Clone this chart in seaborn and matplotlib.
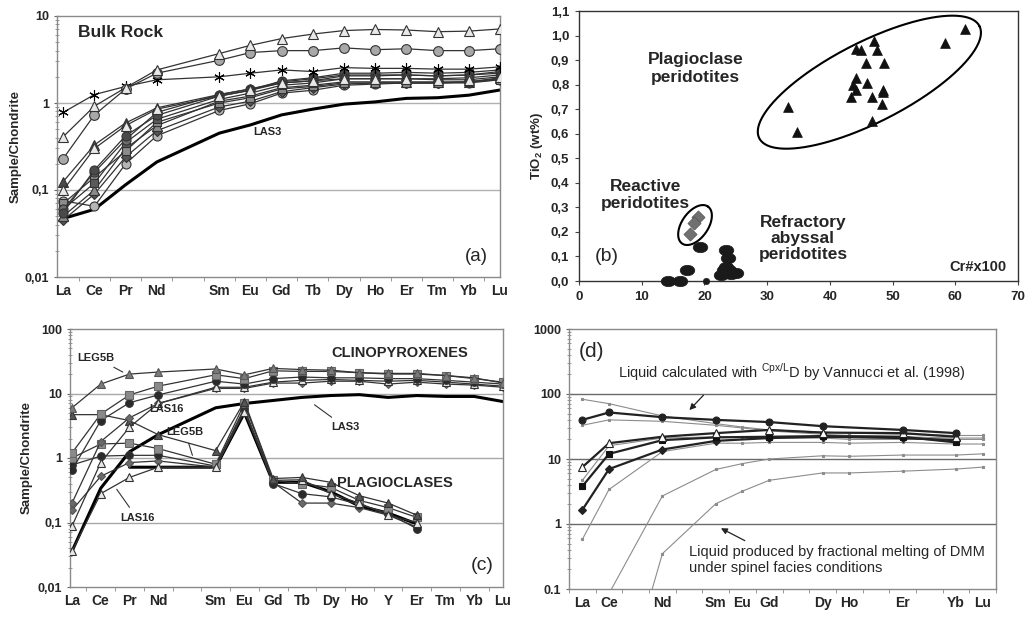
import numpy as np
import matplotlib
matplotlib.use("Agg")
import matplotlib.pyplot as plt
import matplotlib.ticker as mticker
import matplotlib.transforms as mtransforms
from matplotlib.path import Path
import seaborn as sns

sns.set_style("ticks")
plt.rcParams["font.family"] = ["Liberation Sans", "DejaVu Sans"]
plt.rcParams["mathtext.fontset"] = "custom"
plt.rcParams["mathtext.rm"] = "Liberation Sans"
plt.rcParams["mathtext.bf"] = "Liberation Sans:bold"

# ---------------------------------------------------------------- data
# REE sequence (Pm kept as an empty slot); panels c/d also carry Y
ree_a = ["La", "Ce", "Pr", "Nd", "Pm", "Sm", "Eu", "Gd", "Tb", "Dy", "Ho", "Er", "Tm", "Yb", "Lu"]
ree_cd = ["La", "Ce", "Pr", "Nd", "Pm", "Sm", "Eu", "Gd", "Tb", "Dy", "Ho", "Y", "Er", "Tm", "Yb", "Lu"]

# (a) bulk rock, chondrite normalised
elem_a = ["La", "Ce", "Pr", "Nd", "Sm", "Eu", "Gd", "Tb", "Dy", "Ho", "Er", "Tm", "Yb", "Lu"]
br_tri_open_hi = [0.41, 0.92, 1.5, 2.4, 3.7, 4.6, 5.5, 6.2, 6.8, 7.0, 6.9, 6.6, 6.7, 7.1]
br_circ_hi = [0.23, 0.73, 1.45, 2.2, 3.1, 3.8, 4.0, 4.0, 4.3, 4.1, 4.2, 4.0, 4.0, 4.2]
br_star = [0.78, 1.25, 1.55, 1.85, 2.0, 2.2, 2.4, 2.3, 2.55, 2.5, 2.5, 2.45, 2.45, 2.6]
br_tri_open_lo = [0.10, 0.30, 0.55, 0.85, 1.2, 1.4, 1.7, 1.8, 1.9, 1.9, 1.9, 1.85, 1.85, 2.0]
br_tri_dark = [0.125, 0.33, 0.59, 0.88, 1.25, 1.45, 1.75, 1.9, 2.1, 2.1, 2.1, 2.05, 2.1, 2.2]
br_circ_dark = [0.055, 0.17, 0.42, 0.72, 1.2, 1.4, 1.8, 1.95, 2.2, 2.2, 2.25, 2.2, 2.25, 2.4]
br_circ_mid = [0.06, 0.16, 0.38, 0.78, 1.25, 1.45, 1.7, 1.8, 2.05, 2.05, 2.1, 2.05, 2.1, 2.3]
br_sq_dark = [0.06, 0.12, 0.35, 0.65, 1.1, 1.3, 1.6, 1.7, 1.9, 1.9, 1.9, 1.9, 1.95, 2.1]
br_sq_grey = [0.07, 0.14, 0.28, 0.60, 1.0, 1.15, 1.45, 1.55, 1.7, 1.7, 1.7, 1.7, 1.75, 1.85]
br_tri_grey = [0.05, 0.10, 0.30, 0.55, 1.05, 1.2, 1.5, 1.6, 1.75, 1.75, 1.75, 1.75, 1.75, 1.95]
br_diam = [0.045, 0.09, 0.24, 0.48, 0.9, 1.05, 1.35, 1.5, 1.65, 1.7, 1.7, 1.7, 1.75, 1.9]
br_circ_lo = [0.075, 0.065, 0.20, 0.42, 0.82, 0.98, 1.3, 1.4, 1.6, 1.65, 1.7, 1.7, 1.7, 1.85]
br_las3 = [0.047, 0.06, 0.115, 0.21, 0.45, 0.56, 0.73, 0.85, 0.97, 1.03, 1.13, 1.15, 1.23, 1.41]

# (b) Cr# x100 vs TiO2 (wt%)
plag_cr = [33.3, 34.7, 44.2, 45.0, 47.1, 47.5, 45.7, 48.6, 44.2, 43.7, 44.1, 45.9, 43.4, 46.7,
           48.4, 48.5, 48.3, 46.7, 58.4, 61.5]
plag_ti = [0.71, 0.608, 0.947, 0.94, 0.978, 0.94, 0.89, 0.89, 0.829, 0.80, 0.78, 0.805, 0.75, 0.75,
           0.78, 0.77, 0.72, 0.653, 0.97, 1.028]
react_cr = [19.0, 18.4, 17.7]
react_ti = [0.262, 0.235, 0.19]
refr_cr = [14.2, 16.1, 17.2, 19.3, 22.7, 23.5, 23.7, 23.4, 23.1, 23.9, 25.0, 24.2]
refr_ti = [0.0, 0.0, 0.045, 0.14, 0.024, 0.126, 0.092, 0.058, 0.045, 0.045, 0.031, 0.027]
refr_small_cr = [20.2]
refr_small_ti = [0.0]

# (c) clinopyroxene and plagioclase, chondrite normalised
elem_c = ["La", "Ce", "Pr", "Nd", "Sm", "Eu", "Gd", "Tb", "Dy", "Ho", "Y", "Er", "Tm", "Yb", "Lu"]
cpx_leg5b = [6.0, 14, 20, 21.5, 24, 19.5, 24.5, 23.5, 23, 21, 20.5, 20.5, 19, 17.5, 14.5]
cpx_sq = [1.2, 4.8, 9.5, 13, 19.5, 17, 22.5, 22, 22, 21, 20, 20, 19, 17, 15]
cpx_circ = [0.65, 3.8, 7.2, 9.5, 15.5, 14, 17, 18, 17.5, 17.5, 17, 17, 16, 15, 14]
cpx_diam = [0.2, 1.8, 4.2, 7.0, 12, 12, 14.5, 14.5, 15.5, 15.5, 14, 15, 14, 13.5, 12.5]
cpx_las16 = [0.088, 0.85, 3.0, 7.0, 12.5, 12.5, 15, 16, 16.5, 16, 15.5, 16, 15, 14, 13]
cpx_las3 = [0.036, 0.34, 1.25, 2.3, 6.0, 7.0, 7.8, 8.7, 9.3, 9.6, 8.7, 9.3, 9.0, 9.0, 7.5]
nan = float("nan")
plg_leg5b = [4.7, 4.7, 3.8, 2.3, 1.3, 7.5, 0.48, 0.5, 0.42, 0.26, 0.2, 0.13, nan, nan, nan]
plg_sq = [1.0, 1.65, 1.7, 1.4, 0.8, 7.0, 0.45, 0.4, 0.35, 0.22, 0.17, 0.12, nan, nan, nan]
plg_circ = [0.78, 1.07, 1.1, 1.1, 0.75, 6.0, 0.4, 0.28, 0.25, 0.19, 0.14, 0.08, nan, nan, nan]
plg_diam = [0.155, 0.52, 0.85, 0.9, 0.72, 5.5, 0.42, 0.2, 0.2, 0.17, 0.13, 0.085, nan, nan, nan]
plg_las16 = [0.036, 0.28, 0.5, 0.72, 0.72, 5.2, 0.45, 0.46, 0.28, 0.2, 0.13, 0.1, nan, nan, nan]
plg_las3 = [nan, nan, 0.72, 0.72, 0.72, 5.0, 0.42, 0.42, 0.3, 0.18, 0.14, 0.095, nan, nan, nan]

# (d) calculated and modelled melts
elem_d = ["La", "Ce", "Nd", "Sm", "Eu", "Gd", "Dy", "Ho", "Er", "Yb", "Lu"]
liq_circ = [40, 52, 44, 40, nan, 37, 32, nan, 28, 25, nan]
liq_tri = [7.5, 17.5, 22, 25, nan, 28, 25.5, nan, 25, 22, nan]
liq_sq = [3.8, 12, 19.5, 21.5, nan, 22, 22.5, nan, 22, 18, nan]
liq_diam = [1.65, 7.0, 14, 19, nan, 21, 22, nan, 21, 19.5, nan]
liq_g1 = [83, 71, 46, 35, 31, 28, 26, 25, 24, 23, 23]
liq_g2 = [33, 40, 38, 33, 30, 27, 24, 23, 22, 21, 21]
liq_g3 = [4.7, 16, 21, 22, 22, 21, 21, 20, 20, 20, 20]
liq_g4 = [0.58, 3.4, 13, 17.5, 17.5, 18, 18, 17.5, 18, 17, 17]
fm_1 = [nan, 0.085, 2.7, 6.9, 8.5, 10, 11.2, 11, 11.5, 11.5, 12]
fm_2 = [nan, 0.0005, 0.35, 2.05, 3.2, 4.7, 6.1, 6.1, 6.5, 7.0, 7.5]

# ---------------------------------------------------------------- styles
LIGHT = "#e8e8e8"
BOLD = dict(fontweight="bold")
TICK_FS = 10


def series(ax, order, elems, vals, color="#333333", lw=0.9, marker=None, ms=6,
           mfc=None, mec="#333333", z=3, mew=0.8):
    xs = [order.index(e) for e, v in zip(elems, vals) if v == v]
    ys = [v for v in vals if v == v]
    kw = {}
    if marker is not None:
        kw = dict(marker=marker, markersize=ms, markerfacecolor=mfc,
                  markeredgecolor=mec, markeredgewidth=mew)
    sns.lineplot(x=xs, y=ys, ax=ax, color=color, lw=lw, estimator=None,
                 sort=False, zorder=z, **kw)


def log_axis(ax, lo, hi, labels, grid_vals, grid_color, frame_color):
    ax.set_yscale("log")
    ax.set_ylim(lo, hi)
    decades = [10.0 ** k for k in range(int(np.log10(lo)), int(np.log10(hi)) + 1)]
    ax.set_yticks(decades)
    ax.set_yticklabels(labels, **BOLD, fontsize=9)
    ax.yaxis.set_minor_locator(mticker.LogLocator(base=10, subs=np.arange(2, 10)))
    ax.yaxis.set_minor_formatter(mticker.NullFormatter())
    ax.tick_params(axis="y", which="major", length=4, direction="inout", color="#666666")
    ax.tick_params(axis="y", which="minor", length=2.5, direction="inout", color="#888888")
    for g in grid_vals:
        ax.axhline(g, color=grid_color, lw=1.0, zorder=1)
    for sp in ax.spines.values():
        sp.set_color(frame_color)
        sp.set_linewidth(1.0)


def cat_axis(ax, order, shown, lo, hi):
    ax.set_xlim(lo, hi)
    ax.set_xticks([order.index(e) for e in shown])
    ax.set_xticklabels(shown, **BOLD, fontsize=TICK_FS)
    ax.tick_params(axis="x", which="major", length=0, pad=5)
    ax.xaxis.set_minor_locator(mticker.FixedLocator(np.arange(-0.5, len(order), 1.0)))
    ax.tick_params(axis="x", which="minor", length=3, direction="out", color="#888888")


W, H = 1032, 617
fig = plt.figure(figsize=(W / 100, H / 100), dpi=100)
fig.patch.set_facecolor("white")


def px_axes(left, top, right, bottom):
    return fig.add_axes([left / W, 1 - bottom / H, (right - left) / W, (bottom - top) / H])


# ---------------------------------------------------------------- (a)
ax = px_axes(57, 16, 500, 277)
series(ax, ree_a, elem_a, br_las3, color="black", lw=2.2, z=2)
series(ax, ree_a, elem_a, br_circ_lo, marker="o", mfc="#b5b5b5", ms=6.5)
series(ax, ree_a, elem_a, br_diam, marker="D", mfc="#555555", ms=5)
series(ax, ree_a, elem_a, br_tri_grey, marker="^", mfc="#8a8a8a", ms=6.5)
series(ax, ree_a, elem_a, br_sq_grey, marker="s", mfc="#8c8c8c", ms=6)
series(ax, ree_a, elem_a, br_sq_dark, marker="s", mfc="#5a5a5a", ms=6)
series(ax, ree_a, elem_a, br_circ_mid, marker="o", mfc="#6e6e6e", ms=6.5)
series(ax, ree_a, elem_a, br_circ_dark, marker="o", mfc="#4a4a4a", ms=6.5)
series(ax, ree_a, elem_a, br_tri_dark, marker="^", mfc="#4a4a4a", ms=7)
series(ax, ree_a, elem_a, br_tri_open_lo, marker="^", mfc=LIGHT, ms=7.5)
series(ax, ree_a, elem_a, br_star, marker=(6, 2, 0), mfc="black", mec="black", ms=7.5)
series(ax, ree_a, elem_a, br_circ_hi, marker="o", mfc="#a8a8a8", ms=7)
series(ax, ree_a, elem_a, br_tri_open_hi, marker="^", mfc=LIGHT, ms=7.5)
log_axis(ax, 0.01, 10, ["0,01", "0,1", "1", "10"], [0.1, 1], "#b0b0b0", "#8a8a8a")
cat_axis(ax, ree_a, elem_a, -0.2, 14.0)
ax.set_ylabel("Sample/Chondrite", **BOLD, fontsize=9.5, labelpad=2)
ax.text(0.047, 0.935, "Bulk Rock", transform=ax.transAxes, fontsize=12.5, **BOLD,
        ha="left", va="center")
ax.text(0.946, 0.077, "(a)", transform=ax.transAxes, fontsize=13.5, ha="center", va="center")
ax.text(ree_a.index("Eu") + 0.1, 0.47, "LAS3", fontsize=8, **BOLD, ha="left", va="center")

# ---------------------------------------------------------------- (b)
ax = px_axes(579, 11, 1018, 281)
ell_marker = Path.unit_circle().transformed(mtransforms.Affine2D().scale(1.4, 1.0))
sns.scatterplot(x=refr_cr, y=refr_ti, ax=ax, marker=ell_marker, s=110, color="#1a1a1a",
                edgecolor="#1a1a1a", linewidth=0.5, clip_on=False, zorder=3)
sns.scatterplot(x=refr_small_cr, y=refr_small_ti, ax=ax, marker="o", s=22, color="#1a1a1a",
                edgecolor="#1a1a1a", clip_on=False, zorder=3)
sns.scatterplot(x=react_cr, y=react_ti, ax=ax, marker="D", s=45, color="#707070",
                edgecolor="#555555", linewidth=0.5, zorder=3)
sns.scatterplot(x=plag_cr, y=plag_ti, ax=ax, marker="^", s=50, color="#111111",
                edgecolor="#111111", linewidth=0.5, zorder=3)

# enclosing ellipses drawn in screen-proportional units
k = (1.1 / 270.0) / (70.0 / 439.0)   # y data per x data for equal pixel length


def ring(ax, cx, cy, a, b, ang_deg):
    t = np.linspace(0, 2 * np.pi, 300)
    th = np.radians(ang_deg)
    ex = cx + a * np.cos(t) * np.cos(th) - b * np.sin(t) * np.sin(th)
    ey = cy + (a * np.cos(t) * np.sin(th) + b * np.sin(t) * np.cos(th)) * k
    ax.plot(ex, ey, color="black", lw=1.5, zorder=2)


ring(ax, 46.3, 0.81, 19.7, 6.4, 27)
ring(ax, 18.5, 0.228, 3.6, 2.1, 55)
ax.set_xlim(0, 70)
ax.set_ylim(0, 1.1)
ax.set_xticks(np.arange(0, 71, 10))
ax.set_xticklabels([str(v) for v in range(0, 71, 10)], **BOLD, fontsize=9.5)
yt = np.round(np.arange(0, 1.11, 0.1), 1)
ax.set_yticks(yt)
ax.set_yticklabels([f"{v:.1f}".replace(".", ",") for v in yt], **BOLD, fontsize=9.5)
ax.tick_params(length=3, direction="out", color="#444444", pad=4)
for sp in ax.spines.values():
    sp.set_color("#333333")
    sp.set_linewidth(1.0)
ax.set_ylabel(r"TiO$_\mathbf{2}$ (wt%)", **BOLD, fontsize=9.5, labelpad=4)
tb = dict(fontsize=12.5, **BOLD, ha="center", va="center")
ax.text(18.6, 0.865, "Plagioclase\nperidotites", linespacing=1.2, **tb)
ax.text(10.6, 0.35, "Reactive\nperidotites", linespacing=1.2, **tb)
ax.text(35.7, 0.174, "Refractory\nabyssal\nperidotites", linespacing=1.1, **tb)
ax.text(4.5, 0.1, "(b)", fontsize=14, ha="center", va="center")
ax.text(63.6, 0.058, "Cr#x100", **BOLD, fontsize=10.5, ha="center", va="center")

# ---------------------------------------------------------------- (c)
ax = px_axes(70, 329, 503, 587)
ms_c = 5.5
series(ax, ree_cd, elem_c, cpx_las3, color="black", lw=2.2, z=2)
series(ax, ree_cd, elem_c, plg_las3, color="black", lw=2.2, z=2)
series(ax, ree_cd, elem_c, plg_diam, marker="D", mfc="#6a6a6a", mec="#555555", ms=4.5)
series(ax, ree_cd, elem_c, plg_circ, marker="o", mfc="#2a2a2a", ms=ms_c)
series(ax, ree_cd, elem_c, plg_sq, marker="s", mfc="#8a8a8a", mec="#666666", ms=ms_c)
series(ax, ree_cd, elem_c, plg_las16, marker="^", mfc=LIGHT, ms=6)
series(ax, ree_cd, elem_c, plg_leg5b, marker="^", mfc="#555555", ms=6)
series(ax, ree_cd, elem_c, cpx_diam, marker="D", mfc="#6a6a6a", mec="#555555", ms=4.5)
series(ax, ree_cd, elem_c, cpx_las16, marker="^", mfc=LIGHT, ms=6)
series(ax, ree_cd, elem_c, cpx_circ, marker="o", mfc="#2a2a2a", ms=ms_c)
series(ax, ree_cd, elem_c, cpx_sq, marker="s", mfc="#8a8a8a", mec="#666666", ms=ms_c)
series(ax, ree_cd, elem_c, cpx_leg5b, marker="^", mfc="#7a7a7a", mec="#555555", ms=6)
log_axis(ax, 0.01, 100, ["0,01", "0,1", "1", "10", "100"], [0.1, 1, 10], "#a8a8a8", "#8a8a8a")
cat_axis(ax, ree_cd, elem_c, -0.07, 15.0)
ax.set_ylabel("Sample/Chondrite", **BOLD, fontsize=9.5, labelpad=4)
lab = dict(fontsize=8, **BOLD, ha="center", va="center")
line = dict(arrowstyle="-", color="#333333", lw=0.8)
ax.text(11.39, 42, "CLINOPYROXENES", fontsize=10.5, **BOLD, ha="center", va="center")
ax.text(11.25, 0.41, "PLAGIOCLASES", fontsize=10.5, **BOLD, ha="center", va="center")
ax.annotate("LEG5B", xy=(1.85, 20.5), xytext=(0.84, 36), arrowprops=line, **lab)
ax.text(3.28, 5.7, "LAS16", **lab)
ax.annotate("LEG5B", xy=(4.22, 1.0), xytext=(3.94, 2.5), arrowprops=line, **lab)
ax.annotate("LAS16", xy=(1.5, 0.355), xytext=(2.26, 0.118), arrowprops=line, **lab)
ax.annotate("LAS3", xy=(8.36, 7.1), xytext=(9.51, 3.0), arrowprops=line, **lab)
ax.text(0.951, 0.085, "(c)", transform=ax.transAxes, fontsize=14, ha="center", va="center")

# ---------------------------------------------------------------- (d)
ax = px_axes(569, 329, 996, 589)
gkw = dict(color="#8c8c8c", lw=0.8, marker="s", ms=2.0, mfc="#8c8c8c", mec="#8c8c8c", z=2)
for g in (liq_g1, liq_g2, liq_g3, liq_g4, fm_1, fm_2):
    series(ax, ree_cd, elem_d, g, **gkw)
series(ax, ree_cd, elem_d, liq_diam, color="#222222", lw=1.6, marker="D", ms=4, mfc="#222222",
       mec="#222222", z=4)
series(ax, ree_cd, elem_d, liq_sq, color="#222222", lw=1.6, marker="s", ms=5, mfc="#111111",
       mec="#111111", z=4)
series(ax, ree_cd, elem_d, liq_tri, color="#222222", lw=1.6, marker="^", ms=5.5, mfc="white",
       mec="#222222", z=4)
series(ax, ree_cd, elem_d, liq_circ, color="#222222", lw=1.6, marker="o", ms=5, mfc="#222222",
       mec="#222222", z=4)
log_axis(ax, 0.1, 1000, ["0.1", "1", "10", "100", "1000"], [1, 10, 100], "#6a6a6a", "#8a8a8a")
cat_axis(ax, ree_cd, elem_d, -0.5, 15.5)
ax.text(0.052, 0.912, "(d)", transform=ax.transAxes, fontsize=15, ha="center", va="center")
ax.text(0.522, 0.835, r"Liquid calculated with $^{\mathrm{Cpx/L}}$D by Vannucci et al. (1998)",
        transform=ax.transAxes, fontsize=10.5, ha="center", va="center")
ax.text(0.281, 0.112, "Liquid produced by fractional melting of DMM\nunder spinel facies conditions",
        transform=ax.transAxes, fontsize=10.5, ha="left", va="center", linespacing=1.2)
arrow = dict(arrowstyle="-|>", color="#222222", lw=0.9, mutation_scale=9)
ax.annotate("", xy=(3.94, 52.7), xytext=(4.61, 103), arrowprops=arrow)
ax.annotate("", xy=(5.1, 0.9), xytext=(6.18, 0.53), arrowprops=arrow)

fig.savefig("out.png", dpi=100, facecolor="white")
